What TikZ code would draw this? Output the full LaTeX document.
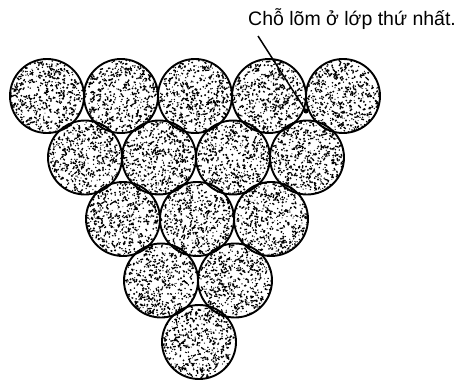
\documentclass[tikz,border=0pt]{standalone}
\usepackage{fontspec}
\setmainfont{Liberation Sans}
\begin{document}
\begin{tikzpicture}[x=1pt,y=-1pt,
  ball/.style={circle, draw, line width=1.9pt, minimum size=74pt, inner sep=0pt,
    path picture={
      \foreach \k in {1,...,360}{
        \pgfmathsetmacro\rr{37*sqrt(rnd)}
        \pgfmathsetmacro\aa{360*rnd}
        \pgfmathsetmacro\ds{0.5+0.65*rnd}
        \fill (path picture bounding box.center) ++(\aa:\rr pt) circle (\ds pt);
      }
      \foreach \k in {1,...,110}{
        \pgfmathsetmacro\rr{36*sqrt(rnd)}
        \pgfmathsetmacro\aa{360*rnd}
        \pgfmathsetmacro\bb{360*rnd}
        \pgfmathsetmacro\ll{1.8+2*rnd}
        \draw[line width=1.3pt] (path picture bounding box.center) ++(\aa:\rr pt) -- ++(\bb:\ll pt);
      }
    }},
  leader/.style={line width=1.5pt}
]
\pgfmathsetseed{4217}
\useasboundingbox (0,0) rectangle (468,381);
\foreach \i/\n in {0/5,1/4,2/3,3/2,4/1}{
  \foreach \j in {1,...,\n}{
    \node[ball] (b\i\j) at ({47+38*\i+74*(\j-1)},{96+61.5*\i}) {};
  }
}
\node[anchor=base west, inner sep=0pt, font=\fontsize{19.5}{22}\selectfont] (lbl) at (248,25) {Chỗ lõm ở lớp thứ nhất.};
\coordinate (lead) at (258,36);
\coordinate (dent) at (306,111);
\draw[leader] (lead) -- (dent);
\fill (dent) circle (2.5pt);
\end{tikzpicture}
\end{document}
